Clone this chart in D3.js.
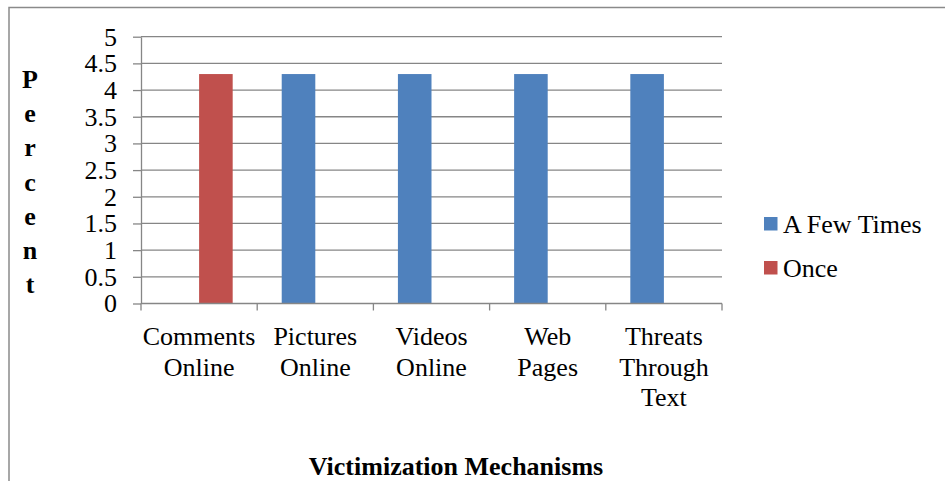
<html><head>
<meta charset="UTF-8">
<title>Victimization Mechanisms</title>
<script src="https://cdnjs.cloudflare.com/ajax/libs/d3/7.8.4/d3.min.js"></script>
<style>
    body { margin: 0; padding: 0; background: #fff; }
    svg { display: block; font-family: "Liberation Serif", serif; }
    svg text { font-family: "Liberation Serif", serif !important; fill: #000; }
</style>
</head>
<body>
<div id="chart"></div>
<script>
    // data
    var categories = ["Comments Online", "Pictures Online", "Videos Online", "Web Pages", "Threats Through Text"];
    var seriesNames = ["A Few Times", "Once"];
    var fewTimes = [0, 4.3, 4.3, 4.3, 4.3];
    var once = [4.3, 0, 0, 0, 0];
    var yTicks = [0, 0.5, 1, 1.5, 2, 2.5, 3, 3.5, 4, 4.5, 5];
    var yTitle = "Percent";
    var xTitle = "Victimization Mechanisms";
    var colors = ["#4F81BD", "#C0504D"];

    var width = 945, height = 481;
    var plot = {left: 141, right: 722, top: 36.7, bottom: 303.5};
    var serif = "'Liberation Serif', serif";

    var svg = d3.select("#chart").append("svg")
        .attr("width", width)
        .attr("height", height);

    // chart frame (only top and left visible)
    svg.append("rect")
        .attr("x", 9).attr("y", 7.5)
        .attr("width", 960).attr("height", 500)
        .attr("fill", "none")
        .attr("stroke", "#8a8a8a")
        .attr("stroke-width", 1.5);

    var x0 = d3.scaleBand().domain(categories).range([plot.left, plot.right]).padding(0);
    var x1 = d3.scaleBand().domain(seriesNames).range([0, x0.bandwidth()]).paddingInner(0).paddingOuter(0.73);
    var y = d3.scaleLinear().domain([0, 5]).range([plot.bottom, plot.top]);

    // gridlines
    svg.append("g").selectAll("line")
        .data(yTicks.filter(function(d) { return d > 0; }))
        .enter().append("line")
        .attr("x1", plot.left).attr("x2", plot.right)
        .attr("y1", function(d) { return y(d); })
        .attr("y2", function(d) { return y(d); })
        .attr("stroke", "#868686")
        .attr("stroke-width", 1.3);

    // y axis
    var yAxis = svg.append("g")
        .attr("transform", "translate(" + plot.left + ",0)")
        .call(d3.axisLeft(y).tickValues(yTicks).tickSize(8).tickSizeOuter(0).tickPadding(16)
            .tickFormat(function(d) { return String(d); }));
    yAxis.attr("font-family", serif);
    yAxis.selectAll("path, line").attr("stroke", "#868686").attr("stroke-width", 1.3);
    yAxis.selectAll("text").style("font-size", "26px").style("font-family", serif).attr("fill", "#000");

    // bars
    var rows = categories.map(function(c, i) {
        return {cat: c, values: [fewTimes[i], once[i]]};
    });
    var groups = svg.append("g").selectAll("g")
        .data(rows)
        .enter().append("g")
        .attr("transform", function(d) { return "translate(" + x0(d.cat) + ",0)"; });
    groups.selectAll("rect")
        .data(function(d) {
            return d.values.map(function(v, k) { return {name: seriesNames[k], value: v, k: k}; })
                .filter(function(e) { return e.value > 0; });
        })
        .enter().append("rect")
        .attr("x", function(d) { return x1(d.name); })
        .attr("width", x1.bandwidth())
        .attr("y", function(d) { return y(d.value); })
        .attr("height", function(d) { return y(0) - y(d.value); })
        .attr("fill", function(d) { return colors[d.k]; });

    // x axis line and boundary ticks
    var xa = svg.append("g");
    xa.append("line")
        .attr("x1", plot.left).attr("x2", plot.right)
        .attr("y1", y(0)).attr("y2", y(0))
        .attr("stroke", "#868686").attr("stroke-width", 1.3);
    var bounds = categories.map(function(c) { return x0(c); }).concat([plot.right]);
    xa.selectAll("line.tick")
        .data(bounds)
        .enter().append("line")
        .attr("class", "tick")
        .attr("x1", function(d) { return d; }).attr("x2", function(d) { return d; })
        .attr("y1", y(0)).attr("y2", y(0) + 7)
        .attr("stroke", "#868686").attr("stroke-width", 1.3);

    // category labels, one word per line
    var labels = xa.selectAll("text.cat")
        .data(categories)
        .enter().append("text")
        .attr("class", "cat")
        .attr("text-anchor", "middle")
        .attr("x", function(d) { return x0(d) + x0.bandwidth() / 2; })
        .attr("y", 345)
        .style("font-family", serif)
        .style("font-size", "26px");
    labels.selectAll("tspan")
        .data(function(d) { return d.split(" "); })
        .enter().append("tspan")
        .attr("x", function() { return d3.select(this.parentNode).attr("x"); })
        .attr("dy", function(d, i) { return i === 0 ? 0 : 30.5; })
        .text(function(d) { return d; });

    // vertical y title, stacked letters
    svg.append("g").selectAll("text")
        .data(yTitle.split(""))
        .enter().append("text")
        .attr("x", 30)
        .attr("y", function(d, i) { return 88 + i * 34.2; })
        .attr("text-anchor", "middle")
        .style("font-family", serif)
        .style("font-size", "26px")
        .style("font-weight", "bold")
        .text(function(d) { return d; });

    // x title
    svg.append("text")
        .attr("x", 456).attr("y", 475)
        .attr("text-anchor", "middle")
        .style("font-family", serif)
        .style("font-size", "26px")
        .style("font-weight", "bold")
        .text(xTitle);

    // legend
    var legend = svg.append("g").selectAll("g")
        .data(seriesNames)
        .enter().append("g")
        .attr("transform", function(d, i) { return "translate(764," + (217 + i * 44) + ")"; });
    legend.append("rect")
        .attr("width", 13.5).attr("height", 13.5)
        .attr("fill", function(d, i) { return colors[i]; });
    legend.append("text")
        .attr("x", 19).attr("y", 15.5)
        .style("font-family", serif)
        .style("font-size", "26px")
        .text(function(d) { return d; });
</script>
</body>
</html>
